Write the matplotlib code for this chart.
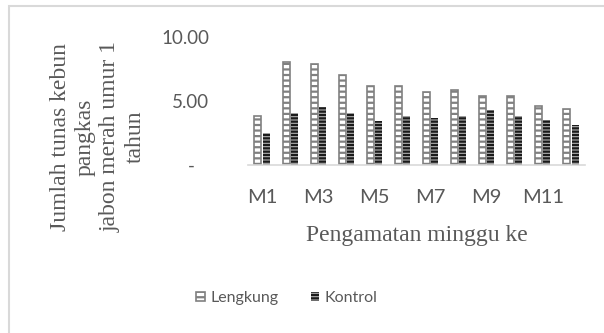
import numpy as np
import matplotlib
matplotlib.use("Agg")
import matplotlib.pyplot as plt
from matplotlib.patches import Rectangle

mpl = matplotlib
mpl.rcParams['hatch.linewidth'] = 1.6

# weekly shoot counts for both treatments
minggu = ['M1', 'M2', 'M3', 'M4', 'M5', 'M6', 'M7', 'M8', 'M9', 'M10', 'M11', 'M12']
lengkung = [3.85, 8.05, 7.9, 7.0, 6.2, 6.2, 5.7, 5.85, 5.4, 5.4, 4.6, 4.35]
kontrol = [2.5, 4.05, 4.5, 4.1, 3.45, 3.85, 3.65, 3.85, 4.3, 3.85, 3.5, 3.1]
yticks = [0, 5, 10]
yticklabels = ['-   ', '5.00', '10.00']

txt_grey = '#595959'
serif = 'Liberation Serif'
sans = 'Lato'

fig = plt.figure(figsize=(6.04, 3.33), dpi=100)
ax = fig.add_axes([248/604, 1 - 165/333, (585-248)/604, (165-37)/333])

x = np.arange(len(minggu))
w = 0.25
ax.bar(x - w/2 - 0.02, lengkung, w, facecolor='white', edgecolor='#808080',
       hatch='---', linewidth=1.2, label='Lengkung')
ax.bar(x + w/2 + 0.02, kontrol, w, facecolor='#b0b0b0', edgecolor='#1a1a1a',
       hatch='-----', linewidth=0, label='Kontrol')

ax.set_xlim(-0.5, len(minggu) - 0.5)
ax.set_ylim(0, 10)
ax.set_xticks(x[::2])
ax.set_xticklabels(minggu[::2], fontsize=14.5, color=txt_grey, family=sans)
ax.set_yticks(yticks)
ax.set_yticklabels(yticklabels, fontsize=13.5, color=txt_grey, family=sans)
ax.tick_params(length=0, pad=17, axis='x')
ax.tick_params(length=0, pad=28, axis='y')
for s in ['top', 'right', 'left']:
    ax.spines[s].set_visible(False)
ax.spines['bottom'].set_color('#d9d9d9')
ax.spines['bottom'].set_linewidth(1.2)

fig.text(417/604, 1 - 235/333, 'Pengamatan minggu ke', ha='center', va='center',
         fontsize=17, family=serif, color=txt_grey)
fig.text(98/604, 1 - 137/333,
         'Jumlah tunas kebun\npangkas\njabon merah umur 1\ntahun',
         rotation=90, ha='center', va='center', multialignment='center',
         fontsize=17, family=serif, color=txt_grey, linespacing=1.25)

leg = fig.legend(loc='center', bbox_to_anchor=(287/604, 1 - 298/333), ncol=2,
                 frameon=False, prop={'family': sans, 'size': 11.5},
                 handlelength=0.55, handleheight=0.55, handletextpad=0.35,
                 columnspacing=2.0)
for t in leg.get_texts():
    t.set_color(txt_grey)

# chart area border
fig.patches.append(Rectangle((8.5/604, -0.1), 1.2, 1 - 6.5/333 + 0.1,
                             transform=fig.transFigure, fill=False,
                             edgecolor='#d9d9d9', linewidth=1.5))

fig.savefig('out.png', dpi=100)
